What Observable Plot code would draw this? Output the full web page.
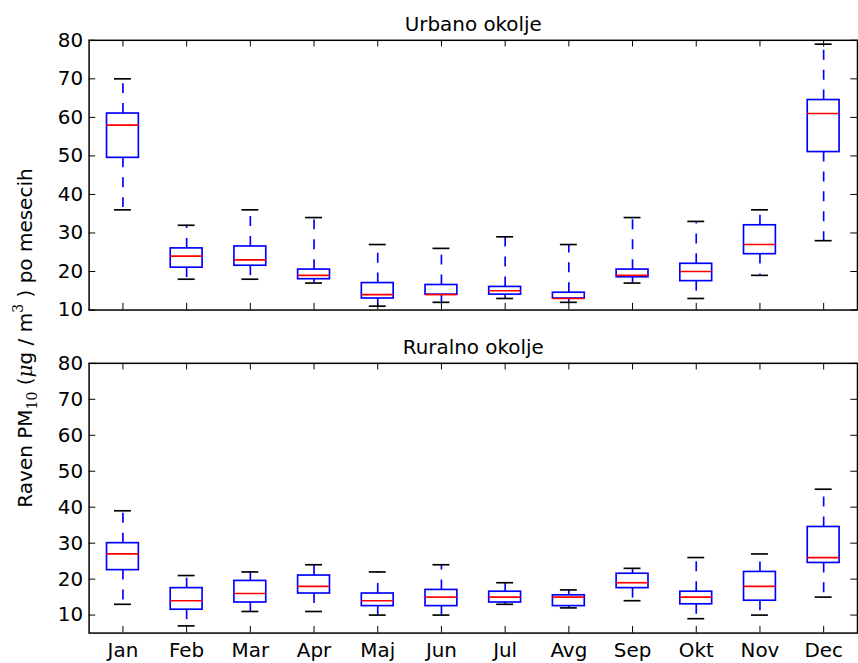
<!DOCTYPE html>
<html>
<head>
<meta charset="utf-8">
<script src="https://cdn.jsdelivr.net/npm/d3@7"></script>
<script src="https://cdn.jsdelivr.net/npm/@observablehq/plot@0.6"></script>
<style>
  html, body { margin: 0; padding: 0; background: #fff; }
  #wrap { position: relative; width: 858px; height: 663px; overflow: hidden; background: #fff; }
  #wrap > svg { display: block; }
  #overlay { position: absolute; left: 0; top: 0; pointer-events: none; }
</style>
</head>
<body>
<div id="wrap"></div>
<script>
const months = ["Jan", "Feb", "Mar", "Apr", "Maj", "Jun", "Jul", "Avg", "Sep", "Okt", "Nov", "Dec"];

const urbanLow    = [36, 18, 18, 17, 11, 12, 13, 12, 17, 13, 19, 28];
const urbanQ1     = [49.5, 21, 21.5, 18, 13, 14, 14, 13, 18.5, 17.5, 24.5, 51];
const urbanMedian = [58, 24, 23, 19, 14, 14, 15, 13, 19, 20, 27, 61];
const urbanQ3     = [61, 26, 26.5, 20.5, 17, 16.5, 16, 14.5, 20.5, 22, 32, 64.5];
const urbanHigh   = [70, 32, 36, 34, 27, 26, 29, 27, 34, 33, 36, 79];

const ruralLow    = [13, 7, 11, 11, 10, 10, 13, 12, 14, 9, 10, 15];
const ruralQ1     = [22.5, 11.5, 13.5, 16, 12.5, 12.5, 13.5, 12.5, 17.5, 13, 14, 24.5];
const ruralMedian = [27, 14, 16, 18, 14, 15, 15, 15, 19, 15, 18, 26];
const ruralQ3     = [30, 17.5, 19.5, 21, 16, 17, 16.5, 15.5, 21.5, 16.5, 22, 34.5];
const ruralHigh   = [39, 21, 22, 24, 22, 24, 19, 17, 23, 26, 27, 45];

const yTicks = [10, 20, 30, 40, 50, 60, 70, 80];

const urbanTitle = "Urbano okolje";
const ruralTitle = "Ruralno okolje";

function table(low, q1, med, q3, high) {
  return months.map((m, i) => ({month: m, low: low[i], q1: q1[i], median: med[i], q3: q3[i], high: high[i]}));
}

const W = 862, ML = 89, MR = 1;
const TICK = 6.7;
const LW = 1.67;

function panel({data, title, yDomain, height, marginTop, marginBottom, showX}) {
  const frameW = W - ML - MR;
  const frameH = height - marginTop - marginBottom;
  const marks = [
    Plot.axisY(yTicks, {tickSize: 0, tickPadding: 6, fontSize: 20, label: null, fill: "black"}),
    // boxes
    Plot.barY(data, {x: "month", y1: "q1", y2: "q3", fill: "none", stroke: "#0000ff", strokeWidth: LW}),
    // whiskers (dashed, start at the box edge)
    Plot.ruleX(data, {x: "month", y1: "q3", y2: "high", stroke: "#0000ff", strokeWidth: LW, strokeDasharray: "10,10"}),
    Plot.ruleX(data, {x: "month", y1: "q1", y2: "low", stroke: "#0000ff", strokeWidth: LW, strokeDasharray: "10,10"}),
    // caps
    Plot.tickY(data, {x: "month", y: "high", stroke: "black", strokeWidth: LW, insetLeft: 7.5, insetRight: 7.5}),
    Plot.tickY(data, {x: "month", y: "low", stroke: "black", strokeWidth: LW, insetLeft: 7.5, insetRight: 7.5}),
    // medians
    Plot.tickY(data, {x: "month", y: "median", stroke: "#ff0000", strokeWidth: LW}),
    // inward ticks
    Plot.ruleY(yTicks, {y: d => d, insetRight: frameW - TICK, stroke: "black", strokeWidth: 1}),
    Plot.ruleY(yTicks, {y: d => d, insetLeft: frameW - TICK, stroke: "black", strokeWidth: 1}),
    Plot.ruleX(months, {x: d => d, insetBottom: frameH - TICK, stroke: "black", strokeWidth: 1}),
    Plot.ruleX(months, {x: d => d, insetTop: frameH - TICK, stroke: "black", strokeWidth: 1}),
    Plot.frame({stroke: "black", strokeWidth: 1.5}),
    Plot.text([title], {frameAnchor: "top", lineAnchor: "middle", dy: -16, fontSize: 20, fill: "black", text: d => d})
  ];
  if (showX) marks.unshift(Plot.axisX({tickSize: 0, tickPadding: 10, fontSize: 20, label: null, fill: "black"}));
  return Plot.plot({
    width: W, height, marginLeft: ML, marginRight: MR, marginTop, marginBottom,
    style: {fontFamily: "'DejaVu Sans', sans-serif", fontSize: "20px", background: "white", color: "black", overflow: "visible"},
    x: {type: "band", domain: months, paddingInner: 0.5, paddingOuter: 0.25, align: 0.5, label: null, axis: showX ? undefined : null},
    y: {domain: yDomain, label: null},
    marks
  });
}

const wrap = document.getElementById("wrap");
wrap.appendChild(panel({
  data: table(urbanLow, urbanQ1, urbanMedian, urbanQ3, urbanHigh),
  title: urbanTitle, yDomain: [10, 80], height: 330, marginTop: 40, marginBottom: 19, showX: false
}));
wrap.appendChild(panel({
  data: table(ruralLow, ruralQ1, ruralMedian, ruralQ3, ruralHigh),
  title: ruralTitle, yDomain: [5, 80], height: 333, marginTop: 35, marginBottom: 27, showX: true
}));

// shared y-axis label
const ov = d3.select(wrap).append("svg").attr("id", "overlay").attr("width", 858).attr("height", 663);
const t = ov.append("text")
  .attr("transform", "translate(31.5,338) rotate(-90)")
  .attr("text-anchor", "middle")
  .attr("font-family", "'DejaVu Sans', sans-serif")
  .attr("font-size", 20)
  .attr("fill", "black");
t.append("tspan").text("Raven PM");
t.append("tspan").attr("dy", 5).attr("font-size", 14).attr("font-family", "'DejaVu Serif', serif").text("10");
t.append("tspan").attr("dy", -5).text(" (");
t.append("tspan").attr("font-style", "italic").attr("font-family", "'DejaVu Serif', serif").text("μ");
t.append("tspan").text("g / m");
t.append("tspan").attr("dy", -9).attr("font-size", 14).attr("font-family", "'DejaVu Serif', serif").text("3");
t.append("tspan").attr("dy", 9).text(" ) po mesecih");
</script>
</body>
</html>
